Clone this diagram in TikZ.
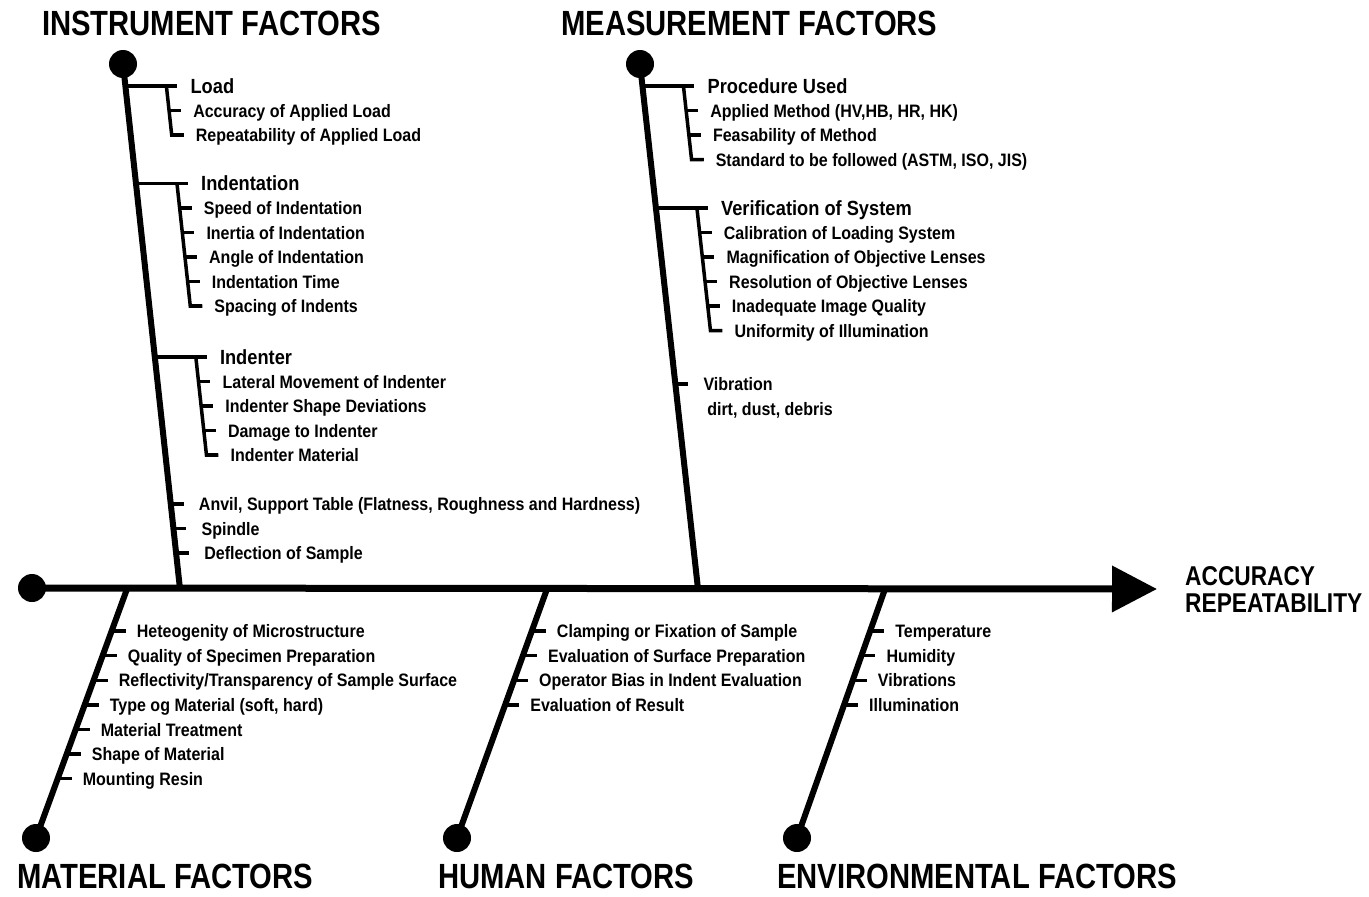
\documentclass[tikz,border=0pt]{standalone}
\usepackage{fontspec}
\usetikzlibrary{arrows.meta}
\newfontfamily\fishfont{Liberation Sans}[FakeStretch=0.89]
\newfontfamily\titlefont{Liberation Sans}[FakeStretch=0.835]

\tikzset{
  spine/.style={line width=7pt},
  bone/.style={line width=6pt},
  twig/.style={line width=3.5pt},
  bonedot/.style={circle,fill,inner sep=0pt,minimum size=28pt},
  cause/.style={anchor=west,inner sep=0pt,text height=13pt,text depth=0pt,
    font=\fishfont\bfseries\fontsize{18}{18}\selectfont},
  group/.style={cause,text height=14.7pt,font=\fishfont\bfseries\fontsize{20.5}{20.5}\selectfont},
  factor/.style={anchor=west,inner sep=0pt,text height=25pt,text depth=0pt,
    font=\titlefont\bfseries\fontsize{35}{35}\selectfont},
  result/.style={factor,text height=19.5pt,font=\titlefont\bfseries\fontsize{27.2}{27.2}\selectfont}
}

% #1 name, #2 branch depth, #3 number of causes, #4 heading, #5 causes
\newcommand\causegroup[5]{
  \draw[twig] (0,#2) -- (52,#2);
  \draw[twig] (41,#2) -- (41,#2+#3*24.5) -- (53,#2+#3*24.5);
  \node[group] (#1) at (65,#2) {#4};
  \foreach \t [count=\i] in {#5}{
    \draw[twig] (41,#2+\i*24.5) -- (53,#2+\i*24.5);
    \node[cause] (#1-\i) at (65,#2+\i*24.5) {\t};}
}
\newcommand\causeitem[3]{
  \draw[twig] (0,#2) -- (13,#2);
  \node[cause] (#1) at (28,#2) {#3};
}
\newcommand\lowcauses[2]{
  \foreach \t [count=\i] in {#2}{
    \draw[twig] (0,17.5+\i*24.6) -- (14,17.5+\i*24.6);
    \node[cause] (#1-\i) at (25,17.5+\i*24.6) {\t};}
}

\begin{document}
\begin{tikzpicture}[x=1pt,y=-1pt]
  \useasboundingbox (0,0) rectangle (1369,897);

  % spine
  \node[bonedot] (tail) at (32,588) {};
  \coordinate (head) at (1157,589);
  \draw[spine,-{Triangle[length=45pt,width=45pt]}] (tail.center) -- (head);
  \node[result] (accuracy) at (1185,575.5) {ACCURACY};
  \node[result] (repeat) at (1185,603) {REPEATABILITY};

  % upper bones
  \node[bonedot] (inst) at (123,64) {};
  \coordinate (instRoot) at (180,589);
  \draw[bone] (inst.center) -- (instRoot);
  \node[factor] (instT) at (42,22.5) {INSTRUMENT FACTORS};

  \node[bonedot] (meas) at (640,64) {};
  \coordinate (measRoot) at (698,589);
  \draw[bone] (meas.center) -- (measRoot);
  \node[factor] (measT) at (561,22.5) {MEASUREMENT FACTORS};

  \begin{scope}[shift={(123,64)},xslant=-0.1086]
    \causegroup{load}{22}{2}{Load}{Accuracy of Applied Load,Repeatability of Applied Load}
    \causegroup{indentation}{119.5}{5}{Indentation}{Speed of Indentation,Inertia of Indentation,
      Angle of Indentation,Indentation Time,Spacing of Indents}
    \causegroup{indenter}{293}{4}{Indenter}{Lateral Movement of Indenter,Indenter Shape Deviations,
      Damage to Indenter,Indenter Material}
    \causeitem{anvil}{440}{Anvil, Support Table (Flatness, Roughness and Hardness)}
    \causeitem{spindle}{464.5}{Spindle}
    \causeitem{deflection}{489}{Deflection of Sample}
  \end{scope}

  \begin{scope}[shift={(640,64)},xslant=-0.1105]
    \causegroup{procedure}{22}{3}{Procedure Used}{{Applied Method (HV,HB, HR, HK)},
      Feasability of Method,{Standard to be followed (ASTM, ISO, JIS)}}
    \causegroup{verification}{144}{5}{Verification of System}{Calibration of Loading System,
      Magnification of Objective Lenses,Resolution of Objective Lenses,
      Inadequate Image Quality,Uniformity of Illumination}
    \causeitem{vibration}{320}{Vibration}
    \node[cause] (dirt) at (29,344.5) {dirt, dust, debris};
  \end{scope}

  % lower bones
  \node[bonedot] (mat) at (36,838) {};
  \coordinate (matRoot) at (127,589);
  \draw[bone] (mat.center) -- (matRoot);
  \node[factor] (matT) at (17,875.5) {MATERIAL FACTORS};

  \node[bonedot] (hum) at (457,838) {};
  \coordinate (humRoot) at (547,589);
  \draw[bone] (hum.center) -- (humRoot);
  \node[factor] (humT) at (438,875.5) {HUMAN FACTORS};

  \node[bonedot] (env) at (797,838) {};
  \coordinate (envRoot) at (885,589);
  \draw[bone] (env.center) -- (envRoot);
  \node[factor] (envT) at (777,875.5) {ENVIRONMENTAL FACTORS};

  \begin{scope}[shift={(127,589)},xslant=0.3655]
    \lowcauses{mat}{Heteogenity of Microstructure,Quality of Specimen Preparation,
      Reflectivity/Transparency of Sample Surface,{Type og Material (soft, hard)},
      Material Treatment,Shape of Material,Mounting Resin}
  \end{scope}
  \begin{scope}[shift={(547,589)},xslant=0.3614]
    \lowcauses{hum}{Clamping or Fixation of Sample,Evaluation of Surface Preparation,
      Operator Bias in Indent Evaluation,Evaluation of Result}
  \end{scope}
  \begin{scope}[shift={(885,589)},xslant=0.3534]
    \lowcauses{env}{Temperature,Humidity,Vibrations,Illumination}
  \end{scope}
\end{tikzpicture}
\end{document}
